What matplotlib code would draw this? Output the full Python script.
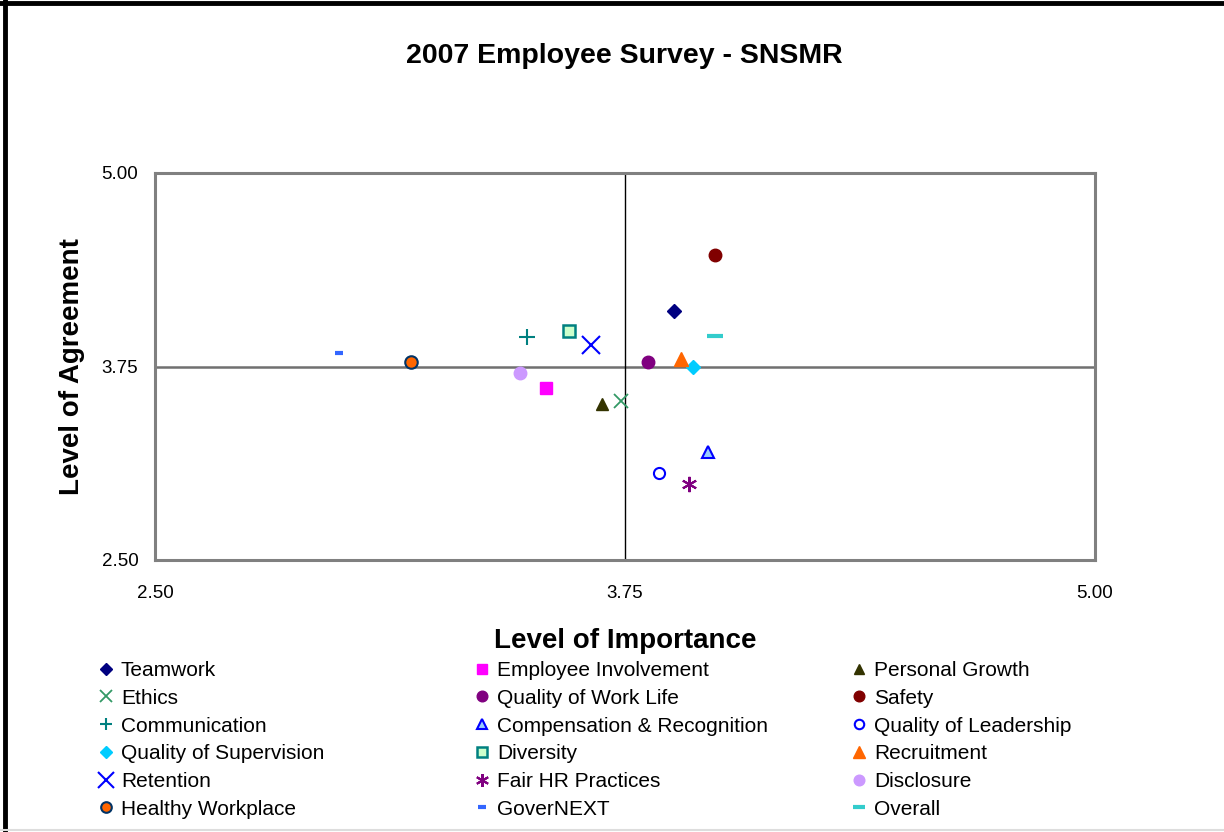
import matplotlib
matplotlib.use("Agg")
import matplotlib.pyplot as plt
from matplotlib.lines import Line2D

plt.rcParams['font.family'] = ['Liberation Sans', 'DejaVu Sans']

labels = ["Teamwork", "Employee Involvement", "Personal Growth",
          "Ethics", "Quality of Work Life", "Safety",
          "Communication", "Compensation & Recognition", "Quality of Leadership",
          "Quality of Supervision", "Diversity", "Recruitment",
          "Retention", "Fair HR Practices", "Disclosure",
          "Healthy Workplace", "GoverNEXT", "Overall"]
importance = [3.88, 3.54, 3.69, 3.74, 3.81, 3.99, 3.49, 3.97, 3.84,
              3.93, 3.60, 3.90, 3.66, 3.92, 3.47, 3.18, 2.99, 3.99]
agreement = [4.11, 3.61, 3.51, 3.53, 3.78, 4.47, 3.94, 3.20, 3.06,
             3.75, 3.98, 3.80, 3.89, 2.99, 3.71, 3.78, 3.84, 3.95]
ticks = [2.50, 3.75, 5.00]

styles = [
    dict(marker='D', color='#000080', ms=7),
    dict(marker='s', color='#FF00FF', ms=8),
    dict(marker='^', color='#333300', ms=9),
    dict(marker='x', color='#339966', ms=10, mew=1.3),
    dict(marker='o', color='#800080', ms=9),
    dict(marker='o', color='#800000', ms=9),
    dict(marker='+', color='#008080', ms=11, mew=1.5),
    dict(marker='^', color='#99CCFF', mec='#0000FF', ms=9, mew=1.5),
    dict(marker='o', color='white', mec='#0000FF', ms=8, mew=1.5),
    dict(marker='D', color='#00CCFF', ms=7),
    dict(marker='s', color='#CCFFCC', mec='#008080', ms=8, mew=1.8),
    dict(marker='^', color='#FF6600', ms=10),
    dict(marker='x', color='#0000FF', ms=13, mew=1.5),
    dict(marker=(6, 2, 0), color='#800080', ms=11, mew=1.5),
    dict(marker='o', color='#CC99FF', ms=9),
    dict(marker='o', color='#FF6600', mec='#003366', ms=9, mew=1.5),
    dict(marker='_', color='#3366FF', ms=6, mew=3),
    dict(marker='_', color='#33CCCC', ms=11, mew=3),
]

fig = plt.figure(figsize=(12.24, 8.32), dpi=100)
ax = fig.add_axes([155/1224, 1 - 560/832, (1095-155)/1224, (560-173)/832])
ax.set_xlim(2.5, 5.0)
ax.set_ylim(2.5, 5.0)

ax.axhline(3.75, color='#707070', lw=1.8, zorder=1)
ax.axvline(3.75, color='black', lw=1.0, zorder=1)

handles = []
for x, y, lab, st in zip(importance, agreement, labels, styles):
    st = dict(st)
    mec = st.pop('mec', st['color'])
    h, = ax.plot([x], [y], linestyle='none', marker=st['marker'],
                 color=st['color'], mfc=st['color'], mec=mec,
                 ms=st['ms'], mew=st.get('mew', 1.0), label=lab, zorder=3)
    handles.append(h)

ax.set_xticks(ticks)
ax.set_yticks(ticks)
ax.set_xticklabels([f"{t:.2f}" for t in ticks], fontsize=13.5)
ax.set_yticklabels([f"{t:.2f}" for t in ticks], fontsize=13.5)
ax.tick_params(axis='x', length=0, pad=18)
ax.tick_params(axis='y', length=0, pad=12)
for s in ax.spines.values():
    s.set_color('#808080')
    s.set_linewidth(2.2)

ax.set_xlabel("Level of Importance", fontsize=20, fontweight='bold', labelpad=19)
ax.set_ylabel("Level of Agreement", fontsize=20, fontweight='bold', labelpad=12)
fig.text(624/1224, 1 - 63/832, "2007 Employee Survey - SNSMR", fontsize=20.5,
         fontweight='bold', ha='center', va='baseline')

col_x = [98/1224, 474/1224, 851/1224]
for c in range(3):
    hs = handles[c::3]
    ls = labels[c::3]
    fig.legend(hs, ls, loc='upper left', bbox_to_anchor=(col_x[c], 1 - 661/832),
               frameon=False, fontsize=15, handlelength=0.8, handletextpad=0.3,
               labelspacing=0.42, borderpad=0, borderaxespad=0, markerscale=0.85)

fig.add_artist(Line2D([0, 1], [1 - 3/832, 1 - 3/832], color='black', lw=3.5,
                      transform=fig.transFigure))
fig.add_artist(Line2D([5/1224, 5/1224], [0, 1], color='black', lw=3.5,
                      transform=fig.transFigure))
fig.add_artist(Line2D([0, 1], [2/832, 2/832], color='#DDDDDD', lw=1.5,
                      transform=fig.transFigure))

fig.savefig("out.png", dpi=100)
